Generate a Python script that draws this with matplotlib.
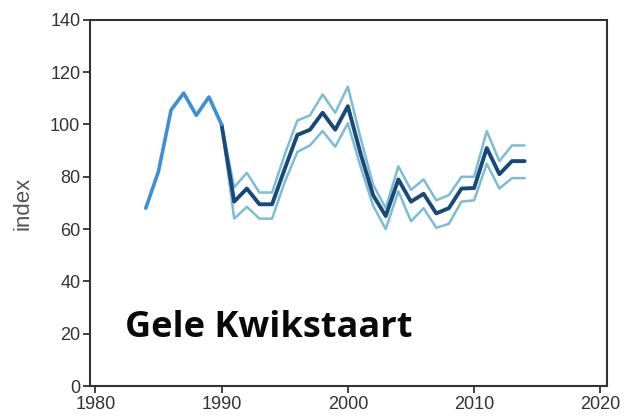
import matplotlib
matplotlib.use("Agg")
import matplotlib.pyplot as plt

# early series (light blue)
years_early = [1984, 1985, 1986, 1987, 1988, 1989, 1990]
index_early = [68, 82, 105.5, 112, 103.5, 110.5, 100]

# later series with band
years_late = [1990, 1991, 1992, 1993, 1994, 1995, 1996, 1997, 1998, 1999, 2000,
              2001, 2002, 2003, 2004, 2005, 2006, 2007, 2008, 2009, 2010,
              2011, 2012, 2013, 2014]
index_mid = [100, 70.5, 75.5, 69.5, 69.5, 83, 96, 98, 104.5, 98, 107,
             89, 73, 65, 79, 70.5, 73.5, 66, 68, 75.5, 75.7,
             91, 81, 86, 86]
index_upper = [100, 76, 81.5, 74, 74, 88.5, 101.5, 103.5, 111.5, 104.5, 114.5,
               95, 77, 68, 84, 75, 79, 71, 73, 80, 80,
               97.5, 86, 92, 92]
index_lower = [100, 64, 68.5, 64, 64, 78, 89.5, 92, 97.5, 91.5, 100.5,
               84, 69, 60, 74.5, 63, 68, 60.5, 62, 70.5, 71,
               85, 75.5, 79.5, 79.5]

xticks = [1980, 1990, 2000, 2010, 2020]
yticks = [0, 20, 40, 60, 80, 100, 120, 140]

fig = plt.figure(figsize=(6.24, 4.17), dpi=100)
ax = fig.add_axes([0.1442, 0.0743, 0.8285, 0.878])

band_color = "#7dbcd6"
ax.plot(years_late, index_upper, color=band_color, lw=1.8, solid_capstyle="round")
ax.plot(years_late, index_lower, color=band_color, lw=1.8, solid_capstyle="round")
ax.plot(years_late, index_mid, color="#174a78", lw=2.8, solid_capstyle="round")
ax.plot(years_early, index_early, color="#3d8fd8", lw=2.6, solid_capstyle="round")

ax.set_xlim(1979.58, 2020.52)
ax.set_ylim(0, 140)
ax.set_xticks(xticks)
ax.set_yticks(yticks)

spine_col = "#333333"
for s in ax.spines.values():
    s.set_color(spine_col)
    s.set_linewidth(1.5)
ax.tick_params(direction="out", length=5, width=1.3, color=spine_col,
               labelsize=13, labelcolor="#333333", pad=2)
for lab in ax.get_xticklabels() + ax.get_yticklabels():
    lab.set_fontfamily("Liberation Sans")

ax.set_ylabel("index", fontsize=16, color="#555555", family="Liberation Sans", labelpad=12)

ax.text(1982.35, 18.7, "Gele Kwikstaart", fontsize=26, fontweight="bold",
        family="Open Sans", color="#0a0a0a", ha="left", va="baseline")

fig.savefig("out.png", dpi=100)
